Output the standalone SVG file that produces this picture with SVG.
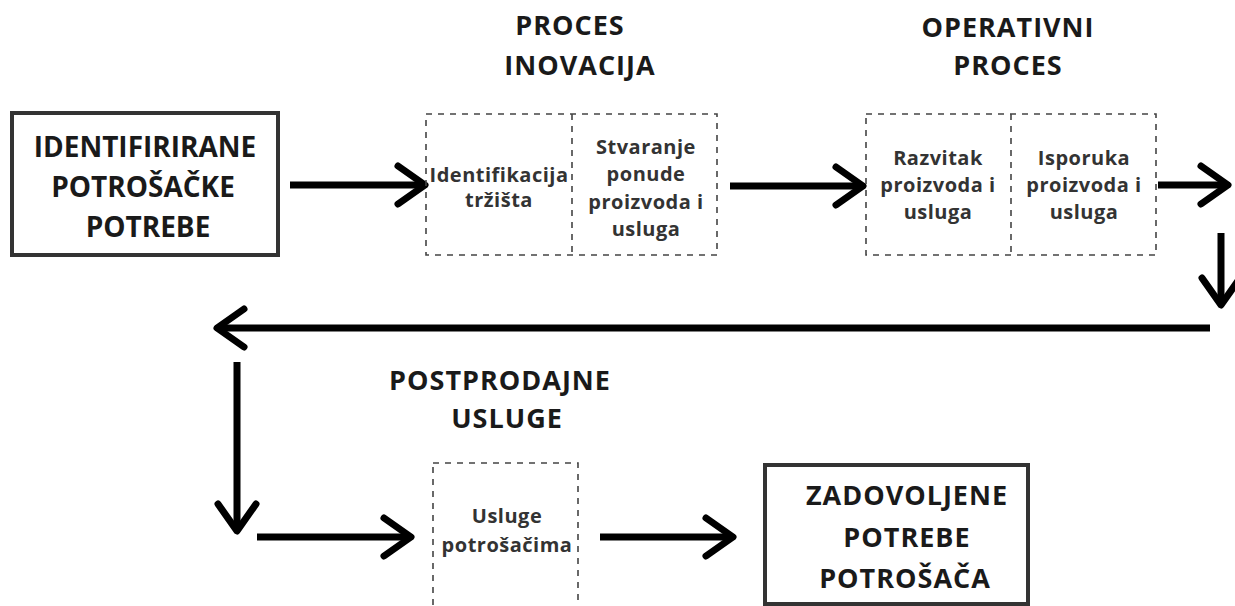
<svg xmlns="http://www.w3.org/2000/svg" width="1235" height="606" viewBox="0 0 1235 606">
<defs>
<style>
.solid{fill:#fff;stroke:#333;stroke-width:4}
.dash{fill:none;stroke:#444;stroke-width:1.6;stroke-dasharray:6 6}
.big{font-family:"Open Sans","DejaVu Sans",sans-serif;font-weight:700;font-size:28px;fill:#1a1a1a;text-anchor:middle}
.head{font-family:"Open Sans","DejaVu Sans",sans-serif;font-weight:700;font-size:27px;letter-spacing:1px;fill:#1a1a1a;text-anchor:middle}
.in{font-family:"Open Sans","DejaVu Sans",sans-serif;font-weight:700;font-size:20px;letter-spacing:0.5px;fill:#333;text-anchor:middle}
.conn{fill:none;stroke:#000;stroke-width:7;stroke-linecap:butt}
</style>
<marker id="chev" markerUnits="userSpaceOnUse" markerWidth="44" markerHeight="48" viewBox="-36 -24 44 48" refX="0" refY="0" orient="auto" overflow="visible">
<path d="M-27,-19 L0,0 L-27,19" fill="none" stroke="#000" stroke-width="7" stroke-linecap="round" stroke-linejoin="round"/>
</marker>
</defs>
<rect width="1235" height="606" fill="#fff"/>

<g id="connectors">
<path class="conn" d="M290,185 L425,185" marker-end="url(#chev)"/>
<path class="conn" d="M730,186 L863,186" marker-end="url(#chev)"/>
<path class="conn" d="M1158,185 L1228,185" marker-end="url(#chev)"/>
<path class="conn" d="M1221,233 L1221,305" marker-end="url(#chev)"/>
<path class="conn" d="M1210,328 L217,328" marker-end="url(#chev)"/>
<path class="conn" d="M237,362 L237,531" marker-end="url(#chev)"/>
<path class="conn" d="M257,537 L411,537" marker-end="url(#chev)"/>
<path class="conn" d="M600,537 L733,537" marker-end="url(#chev)"/>
</g>

<g id="node-identificirane">
<rect class="solid" x="12" y="113" width="266" height="142"/>
<text class="big" x="145" y="157">IDENTIFIRIRANE</text>
<text class="big" x="143" y="197">POTROŠAČKE</text>
<text class="big" x="148" y="237">POTREBE</text>
</g>

<g id="node-proces-inovacija">
<text class="head" x="570" y="35">PROCES</text>
<text class="head" x="580" y="75">INOVACIJA</text>
<rect class="dash" x="426" y="114" width="291" height="141"/>
<line class="dash" x1="572" y1="114" x2="572" y2="255"/>
<text class="in" x="499" y="182">Identifikacija</text>
<text class="in" x="499" y="207">tržišta</text>
<text class="in" x="646" y="154">Stvaranje</text>
<text class="in" x="646" y="181">ponude</text>
<text class="in" x="646" y="209">proizvoda i</text>
<text class="in" x="646" y="236">usluga</text>
</g>

<g id="node-operativni-proces">
<text class="head" x="1008" y="37">OPERATIVNI</text>
<text class="head" x="1008" y="75">PROCES</text>
<rect class="dash" x="866" y="114" width="290" height="141"/>
<line class="dash" x1="1011" y1="114" x2="1011" y2="255"/>
<text class="in" x="938" y="165">Razvitak</text>
<text class="in" x="938" y="192">proizvoda i</text>
<text class="in" x="938" y="219">usluga</text>
<text class="in" x="1084" y="165">Isporuka</text>
<text class="in" x="1084" y="192">proizvoda i</text>
<text class="in" x="1084" y="219">usluga</text>
</g>

<g id="node-postprodajne">
<text class="head" x="500" y="390">POSTPRODAJNE</text>
<text class="head" x="507" y="428">USLUGE</text>
<rect class="dash" x="433" y="463" width="145" height="160"/>
<text class="in" x="507" y="523">Usluge</text>
<text class="in" x="507" y="552">potrošačima</text>
</g>

<g id="node-zadovoljene">
<rect class="solid" x="765" y="465" width="263" height="139"/>
<text class="head" x="907" y="505">ZADOVOLJENE</text>
<text class="head" x="907" y="547">POTREBE</text>
<text class="head" x="905" y="588">POTROŠAČA</text>
</g>
</svg>
